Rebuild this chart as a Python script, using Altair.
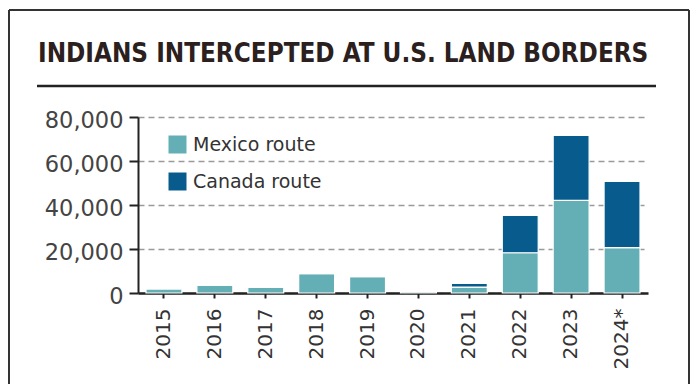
import altair as alt
import pandas as pd

title_text = "INDIANS INTERCEPTED AT U.S. LAND BORDERS"
years = ["2015", "2016", "2017", "2018", "2019", "2020", "2021", "2022", "2023", "2024*"]
mexico = [1900, 3500, 2500, 8800, 7400, 600, 2700, 18300, 42100, 20600]
canada = [0, 0, 0, 0, 0, 0, 1700, 17000, 29500, 30100]
routes = ["Mexico route", "Canada route"]
route_colors = ["#64afb6", "#085b8d"]
y_ticks = [0, 20000, 40000, 60000, 80000]

rows = []
for i, yr in enumerate(years):
    rows.append({"year": yr, "route": routes[0], "value": mexico[i], "rank": 0})
    rows.append({"year": yr, "route": routes[1], "value": canada[i], "rank": 1})
df = pd.DataFrame(rows)

bars = alt.Chart(df).mark_bar(stroke="white", strokeWidth=1.2).encode(
    x=alt.X("year:N", sort=years,
            scale=alt.Scale(paddingInner=0.294, paddingOuter=0.157),
            axis=alt.Axis(title=None, labelAngle=270, labelFont="DejaVu Sans",
                          labelFontSize=20, labelColor="#333333", labelPadding=10,
                          tickSize=5, tickWidth=2, tickColor="#222222",
                          domainColor="#222222", domainWidth=2.5, grid=False)),
    y=alt.Y("value:Q", stack="zero",
            scale=alt.Scale(domain=[0, 80000], nice=False),
            axis=alt.Axis(title=None, values=y_ticks, format=",d",
                          labelFont="DejaVu Sans", labelFontSize=22.5,
                          labelColor="#444444", labelPadding=6, labelOffset=3,
                          tickSize=9, tickWidth=2, tickColor="#222222",
                          domainColor="#222222", domainWidth=2,
                          grid=True, gridDash=[6, 4], gridColor="#9a9a9a",
                          gridWidth=1.5)),
    color=alt.Color("route:N",
                    scale=alt.Scale(domain=routes, range=route_colors),
                    legend=alt.Legend(title=None, orient="none", legendX=30, legendY=18,
                                      symbolType="square", symbolSize=324,
                                      symbolStrokeWidth=0, symbolOpacity=1,
                                      labelFont="DejaVu Sans", labelFontSize=19,
                                      labelColor="#333333", labelOffset=6,
                                      rowPadding=17)),
    order=alt.Order("rank:Q"),
)

one = pd.DataFrame({"t": [title_text]})

title = alt.Chart(one).mark_text(
    align="left", baseline="alphabetic",
    font="DejaVu Sans Condensed",
    fontSize=25.8, fontWeight="bold", color="#2b201d",
).encode(text="t:N", x=alt.value(-100), y=alt.value(-55))

underline = alt.Chart(one).mark_rule(color="#222222", strokeWidth=2.5).encode(
    x=alt.value(-101), x2=alt.value(518), y=alt.value(-31))

frame_top = alt.Chart(one).mark_rule(color="#333333", strokeWidth=2).encode(
    x=alt.value(-129), x2=alt.value(551), y=alt.value(-107))
frame_left = alt.Chart(one).mark_rule(color="#333333", strokeWidth=2).encode(
    x=alt.value(-129), y=alt.value(-107), y2=alt.value(275))
frame_right = alt.Chart(one).mark_rule(color="#333333", strokeWidth=2).encode(
    x=alt.value(551), y=alt.value(-107), y2=alt.value(275))

chart = alt.layer(frame_top, frame_left, frame_right, title, underline, bars).properties(
    width=510, height=176,
    autosize=alt.AutoSizeParams(type="none"),
    padding={"left": 130, "top": 109, "right": 42, "bottom": 91},
).configure_view(stroke=None)

chart.save("out.html", embed_options={"renderer": "svg", "actions": False})
